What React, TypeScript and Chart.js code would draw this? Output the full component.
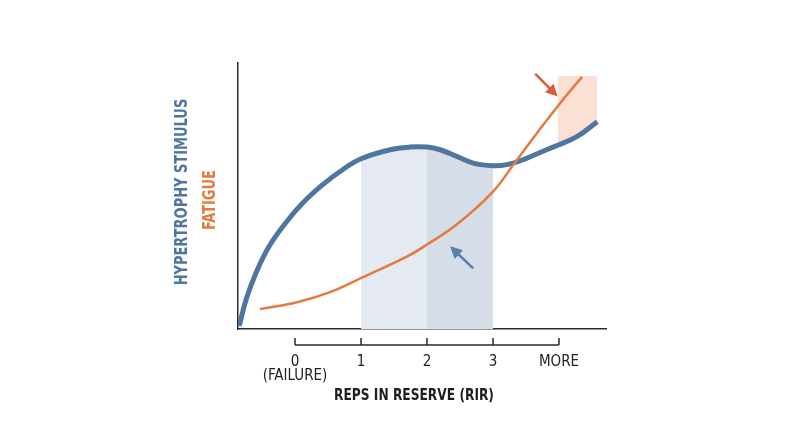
import React, { useEffect, useRef } from 'react';
import { Chart, registerables } from 'chart.js';

Chart.register(...registerables);

// hypertrophy stimulus curve (blue)
const blueX = [-0.845, -0.74, -0.59, -0.39, -0.14, 0.12, 0.42, 0.72, 1.0, 1.44, 1.74, 2.0, 2.2, 2.45, 2.7, 3.0, 3.21, 3.46, 3.81, 3.98, 4.27, 4.58];
const blueY = [1.2, 11.2, 21.2, 31.2, 40.0, 47.5, 54.3, 59.9, 64.0, 67.4, 68.4, 68.4, 67.4, 64.9, 62.4, 61.4, 61.8, 63.7, 67.4, 69.1, 72.3, 77.9];

// fatigue curve (orange)
const orangeX = [-0.53, 0.03, 0.53, 1.03, 1.7, 2.0, 2.45, 3.0, 3.33, 3.67, 4.02, 4.35];
const orangeY = [7.5, 10.1, 13.9, 19.5, 27.3, 31.8, 39.3, 51.7, 62.5, 73.8, 85.0, 94.8];

// x tick labels (0..4)
const tickValues = [0, 1, 2, 3, 4];
const tickLabels: (string | string[])[] = [['0', '(FAILURE)'], '1', '2', '3', 'MORE'];

// shaded RIR bands under the stimulus curve
const lightBand = [1, 2];
const darkBand = [2, 3];
// peach zone above the stimulus curve
const peachBand = [3.98, 4.58];
const peachTop = 95;

// arrows: [tailX, tailY, tipX, tipY]
const orangeArrow = [3.64, 95.9, 3.98, 87.4];
const blueArrow = [2.7, 22.8, 2.35, 31.1];

const FONT = '"Liberation Sans Narrow", "DejaVu Sans Condensed", "Roboto", sans-serif';
const BLUE = '#4f76a0';
const ORANGE = '#e57a40';
const SQUEEZE = 0.85; // narrow the wide fallback font

const bluePoints = blueX.map((x, i) => ({ x, y: blueY[i] }));
const orangePoints = orangeX.map((x, i) => ({ x, y: orangeY[i] }));
const slice = (r: number[]) => bluePoints.filter((p) => p.x >= r[0] && p.x <= r[1]);

function drawArrow(ctx: CanvasRenderingContext2D, x1: number, y1: number, x2: number, y2: number, color: string) {
    const a = Math.atan2(y2 - y1, x2 - x1);
    const head = 12;
    ctx.save();
    ctx.strokeStyle = color;
    ctx.fillStyle = color;
    ctx.lineWidth = 2.5;
    ctx.beginPath();
    ctx.moveTo(x1, y1);
    ctx.lineTo(x2 - Math.cos(a) * head * 0.8, y2 - Math.sin(a) * head * 0.8);
    ctx.stroke();
    ctx.beginPath();
    ctx.moveTo(x2, y2);
    ctx.lineTo(x2 - head * Math.cos(a) + 6 * Math.sin(a), y2 - head * Math.sin(a) - 6 * Math.cos(a));
    ctx.lineTo(x2 - head * Math.cos(a) - 6 * Math.sin(a), y2 - head * Math.sin(a) + 6 * Math.cos(a));
    ctx.closePath();
    ctx.fill();
    ctx.restore();
}

function squeezedText(ctx: CanvasRenderingContext2D, text: string, x: number, y: number, color: string, size: number, rotate: boolean) {
    ctx.save();
    ctx.font = `bold ${size}px ${FONT}`;
    ctx.textAlign = 'center';
    ctx.textBaseline = 'middle';
    ctx.fillStyle = color;
    ctx.translate(x, y);
    if (rotate) ctx.rotate(-Math.PI / 2);
    ctx.scale(SQUEEZE, 1);
    ctx.fillText(text, 0, 0);
    ctx.restore();
}

const extras = {
    id: 'extras',
    afterDatasetsDraw(chart: any) {
        const { ctx, scales } = chart;
        const xs = scales.x;
        const ys = scales.y;
        const arrow = (a: number[], c: string) =>
            drawArrow(ctx, xs.getPixelForValue(a[0]), ys.getPixelForValue(a[1]), xs.getPixelForValue(a[2]), ys.getPixelForValue(a[3]), c);
        arrow(orangeArrow, '#d95d3a');
        arrow(blueArrow, '#5a7fa9');
    },
    afterDraw(chart: any) {
        const { ctx, chartArea, scales } = chart;
        const xs = scales.x;
        // bracket scale under the axis
        const by = chartArea.bottom + 16;
        ctx.save();
        ctx.strokeStyle = '#2b2b2b';
        ctx.lineWidth = 1.5;
        ctx.beginPath();
        ctx.moveTo(xs.getPixelForValue(tickValues[0]), by);
        ctx.lineTo(xs.getPixelForValue(tickValues[tickValues.length - 1]), by);
        tickValues.forEach((v) => {
            const px = xs.getPixelForValue(v);
            ctx.moveTo(px, by);
            ctx.lineTo(px, by - 7);
        });
        ctx.stroke();
        ctx.restore();

        // two coloured y titles and the x title
        const midY = (chartArea.top + chartArea.bottom) / 2;
        squeezedText(ctx, 'HYPERTROPHY STIMULUS', chartArea.left - 55, midY - 4, BLUE, 17, true);
        squeezedText(ctx, 'FATIGUE', chartArea.left - 27, midY + 4, ORANGE, 17, true);
        squeezedText(ctx, 'REPS IN RESERVE (RIR)', (chartArea.left + chartArea.right) / 2 - 8, chartArea.bottom + 67, '#1e1e1e', 16, false);
    },
};

const App: React.FC = () => {
    const chartRef = useRef<HTMLCanvasElement | null>(null);

    useEffect(() => {
        document.body.style.margin = '0';
        const ctx = chartRef.current?.getContext('2d');
        if (!ctx) {
            return;
        }

        const myChart = new Chart(ctx, {
            type: 'line',
            data: {
                datasets: [
                    {
                        data: slice(lightBand),
                        borderWidth: 0,
                        pointRadius: 0,
                        tension: 0.4,
                        backgroundColor: 'rgb(229, 233, 242)',
                        fill: 'origin',
                        order: 5,
                    },
                    {
                        data: slice(darkBand),
                        borderWidth: 0,
                        pointRadius: 0,
                        tension: 0.4,
                        backgroundColor: 'rgb(213, 221, 233)',
                        fill: 'origin',
                        order: 5,
                    },
                    {
                        data: slice(peachBand),
                        borderWidth: 0,
                        pointRadius: 0,
                        tension: 0.4,
                        backgroundColor: 'rgb(251, 224, 211)',
                        fill: { value: peachTop },
                        order: 5,
                    },
                    {
                        label: 'Hypertrophy stimulus',
                        data: bluePoints,
                        borderColor: BLUE,
                        borderWidth: 5,
                        pointRadius: 0,
                        tension: 0.4,
                        fill: false,
                        order: 2,
                    },
                    {
                        label: 'Fatigue',
                        data: orangePoints,
                        borderColor: ORANGE,
                        borderWidth: 2.5,
                        pointRadius: 0,
                        tension: 0.4,
                        fill: false,
                        order: 1,
                    },
                ],
            },
            options: {
                animation: false,
                responsive: true,
                maintainAspectRatio: false,
                layout: {
                    padding: { left: 238, right: 194, top: 63, bottom: 38 },
                },
                plugins: {
                    legend: { display: false },
                    tooltip: { enabled: false },
                },
                scales: {
                    x: {
                        type: 'linear',
                        min: -0.864,
                        max: 4.712,
                        afterBuildTicks: (scale: any) => {
                            scale.ticks = tickValues.map((v) => ({ value: v }));
                        },
                        grid: { display: false, drawTicks: false },
                        border: { display: true, color: '#2b2b2b', width: 1.5 },
                        ticks: {
                            padding: 26,
                            color: '#222',
                            font: { family: FONT, size: 15, lineHeight: 0.93 },
                            maxRotation: 0,
                            autoSkip: false,
                            callback: (v: any) => tickLabels[tickValues.indexOf(Number(v))] ?? '',
                        },
                    },
                    y: {
                        min: 0,
                        max: 100,
                        grid: { display: false, drawTicks: false },
                        border: { display: true, color: '#2b2b2b', width: 1.5 },
                        ticks: { display: false },
                    },
                },
            },
            plugins: [extras],
        });

        return () => {
            myChart.destroy();
        };
    }, []);

    return (
        <div style={{ width: 800, height: 447, position: 'relative', background: '#fff' }}>
            <canvas ref={chartRef} />
        </div>
    );
};

export default App;
